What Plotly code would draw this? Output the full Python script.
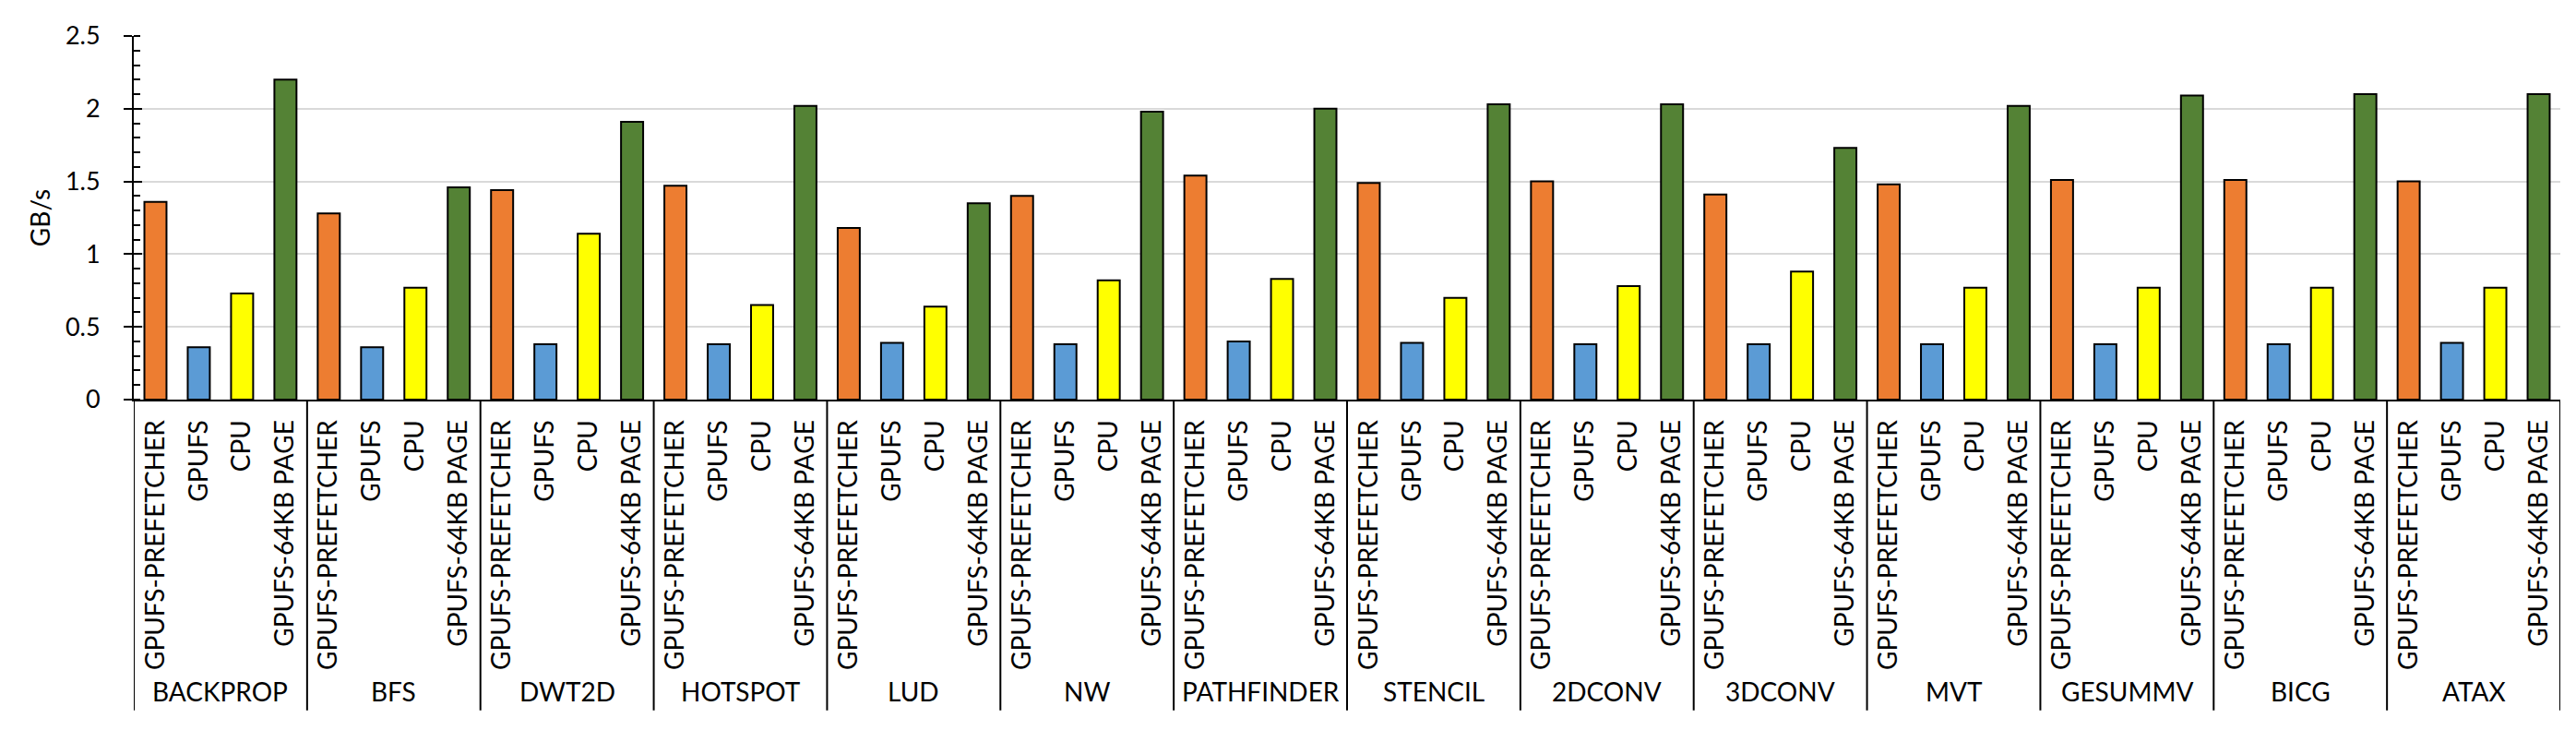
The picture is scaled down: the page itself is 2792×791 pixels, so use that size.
import plotly.graph_objects as go

# benchmark groups and the four configurations in each group
groups = ["BACKPROP", "BFS", "DWT2D", "HOTSPOT", "LUD", "NW", "PATHFINDER",
          "STENCIL", "2DCONV", "3DCONV", "MVT", "GESUMMV", "BICG", "ATAX"]
configs = ["GPUFS-PREFETCHER", "GPUFS", "CPU", "GPUFS-64KB PAGE"]

# GB/s
prefetcher = [1.36, 1.28, 1.44, 1.47, 1.18, 1.40, 1.54, 1.49, 1.50, 1.41, 1.48, 1.51, 1.51, 1.50]
gpufs = [0.36, 0.36, 0.38, 0.38, 0.39, 0.38, 0.40, 0.39, 0.38, 0.38, 0.38, 0.38, 0.38, 0.39]
cpu = [0.73, 0.77, 1.14, 0.65, 0.64, 0.82, 0.83, 0.70, 0.78, 0.88, 0.77, 0.77, 0.77, 0.77]
page64 = [2.20, 1.46, 1.91, 2.02, 1.35, 1.98, 2.00, 2.03, 2.03, 1.73, 2.02, 2.09, 2.10, 2.10]

colors = ["#ED7D31", "#5B9BD5", "#FFFF00", "#548235"]

series = [prefetcher, gpufs, cpu, page64]
k = len(configs)
pos, inner, vals, cols = [], [], [], []
for i, g in enumerate(groups):
    for j, c in enumerate(configs):
        pos.append(i * k + j)
        inner.append(c)
        vals.append(series[j][i])
        cols.append(colors[j])

FONT = "Liberation Sans Narrow, Lato, Arial, sans-serif"
n_cat = len(pos)

fig = go.Figure()
fig.add_trace(go.Bar(
    x=pos,
    y=vals,
    marker=dict(color=cols, line=dict(color="black", width=2)),
    showlegend=False,
))
# empty trace so the overlay axis (inside half of the major ticks) gets drawn
fig.add_trace(go.Scatter(x=[0], y=[None], yaxis="y2",
                         showlegend=False, hoverinfo="skip", mode="lines"))

# group names under the config labels, and the dividers between groups
for i, g in enumerate(groups):
    fig.add_annotation(x=i * k + (k - 1) / 2, y=-0.802, xref="x", yref="paper",
                       text=g, showarrow=False, yanchor="middle",
                       font=dict(size=28))
for i in range(len(groups) + 1):
    fig.add_shape(type="line", xref="x", yref="paper",
                  x0=i * k - 0.5, x1=i * k - 0.5, y0=0, y1=-0.855,
                  line=dict(color="black", width=2))

fig.update_layout(
    width=2792, height=791,
    margin=dict(l=137, r=25, t=31, b=366, autoexpand=False),
    paper_bgcolor="white", plot_bgcolor="white",
    bargap=0.49,
    font=dict(family=FONT, size=28, color="black"),
    xaxis=dict(
        range=[-0.5, n_cat - 0.5],
        tickmode="array", tickvals=pos, ticktext=inner,
        showline=True, linecolor="black", linewidth=2,
        ticks="", tickangle=-90,
        tickfont=dict(size=28),
        ticklabelstandoff=9,
        showgrid=False, zeroline=False, automargin=False,
    ),
    yaxis=dict(
        range=[0, 2.5], dtick=0.5,
        showline=True, linecolor="black", linewidth=2,
        ticks="outside", ticklen=9, tickwidth=2, tickcolor="black",
        tickfont=dict(size=27),
        ticklabelstandoff=20,
        minor=dict(ticks="inside", dtick=0.1, ticklen=7, tickwidth=2,
                   tickcolor="black", showgrid=False),
        showgrid=True, gridcolor="#d9d9d9", gridwidth=1.5,
        zeroline=False, automargin=False,
        title=dict(text="GB/s", font=dict(size=28), standoff=8),
    ),
    yaxis2=dict(
        overlaying="y", range=[0, 2.5], dtick=0.5, side="left",
        ticks="inside", ticklen=9, tickwidth=2, tickcolor="black",
        showticklabels=False, showgrid=False, zeroline=False, showline=False,
    ),
)

fig.write_html("out.html")
